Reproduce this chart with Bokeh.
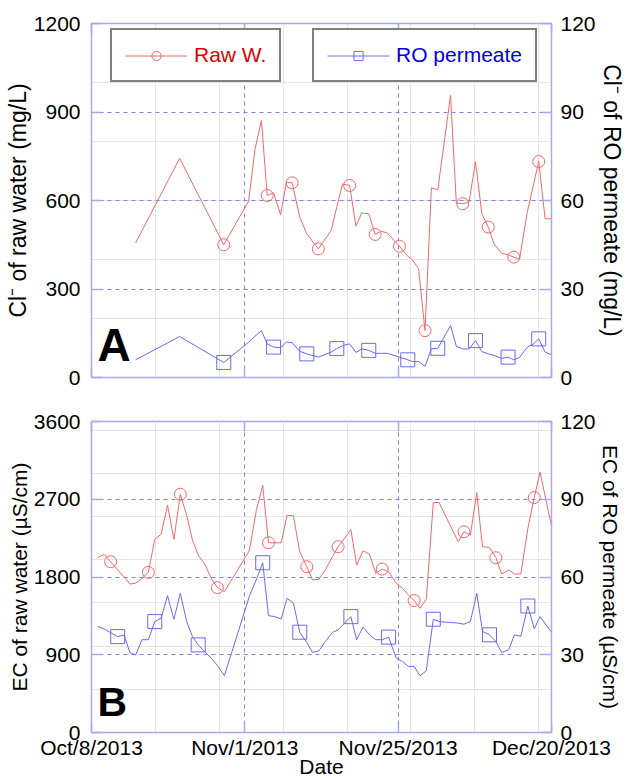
from bokeh.plotting import figure
from bokeh.models import (Range1d, LinearAxis, FixedTicker, Legend, LegendItem,
                          Label, Grid)
from bokeh.layouts import column
from bokeh.embed import file_html
from bokeh.resources import INLINE

# ---------------- data ----------------
# x values: days after Oct/8/2013 (axis ticks every 24 days)
x_ticks = [0, 24, 48, 72]
x_tick_labels = ["Oct/8/2013", "Nov/1/2013", "Nov/25/2013", "Dec/20/2013"]

# Panel A: chloride
day_cl = [6.9, 13.8, 20.7, 24.6, 25.6, 26.6, 27.5, 28.5, 29.6, 30.5, 31.4, 32.6,
          33.7, 35.5, 37.5, 38.4, 39.3, 40.4, 41.4, 42.3, 43.4, 44.4, 45.3, 46.3,
          48.2, 49.5, 50.2, 51.2, 52.2, 53.2, 54.2, 56.2, 57.1, 58.1, 59.1, 60.1,
          61.1, 62.1, 63.0, 64.2, 65.2, 66.1, 67.0, 68.2, 69.2, 70.0, 71.0, 72.0]
cl_raw = [456, 743, 450, 598, 775, 871, 617, 626, 552, 662, 660, 543,
          487, 436, 498, 578, 656, 651, 513, 558, 555, 485, 496, 490,
          445, 411, 400, 368, 159, 643, 636, 956, 592, 589, 594, 732,
          555, 510, 453, 421, 416, 408, 402, 560, 656, 732, 538, 538]
cl_ro = [6.0, 13.9, 5.1, 12.0, 14.0, 15.9, 11.4, 10.3, 10.1, 12.0, 11.8, 8.9,
         8.0, 6.9, 8.6, 9.8, 10.8, 11.4, 8.5, 9.7, 9.2, 8.2, 8.2, 8.2,
         6.9, 6.0, 5.4, 5.4, 3.8, 9.7, 9.9, 17.6, 10.6, 9.7, 9.7, 12.5,
         8.8, 8.0, 7.5, 6.5, 6.9, 6.0, 6.8, 10.3, 11.4, 13.1, 8.6, 7.7]
cl_raw_marked = [2, 6, 10, 13, 17, 21, 24, 28, 33, 37, 41, 45]
cl_ro_marked = [2, 7, 12, 15, 20, 25, 30, 35, 40, 45]
cl_raw_ticks = [0, 300, 600, 900, 1200]
cl_ro_ticks = [0, 30, 60, 90, 120]

# Panel B: electrical conductivity
day_ec = [1.0, 2.0, 3.0, 4.1, 5.1, 6.0, 6.9, 7.9, 8.9, 9.9, 10.9, 11.9, 12.9,
          13.9, 14.9, 15.8, 16.7, 17.8, 18.8, 19.7, 20.8, 24.7, 25.8, 26.8,
          27.7, 28.7, 29.7, 30.6, 31.6, 32.6, 33.7, 34.6, 35.6, 36.6, 37.7,
          38.6, 39.6, 40.6, 41.5, 42.5, 43.5, 44.5, 45.5, 46.5, 47.7, 48.7,
          49.6, 50.5, 51.4, 52.4, 53.5, 54.4, 57.4, 58.3, 59.3, 60.3, 61.2,
          62.3, 63.3, 64.2, 65.3, 66.2, 67.2, 68.3, 69.3, 70.2, 72.0]
ec_raw = [2027, 2062, 1977, 1881, 1800, 1719, 1727, 1785, 1854, 2235, 2296,
          2631, 2235, 2758, 2515, 2227, 2054, 1938, 1777, 1677, 1631, 2104,
          2573, 2862, 2196, 2196, 2196, 2515, 2508, 2092, 1919, 1765, 1773,
          1881, 2035, 2150, 2246, 2350, 1938, 2104, 2065, 1842, 1892, 1861,
          1727, 1669, 1592, 1527, 1438, 1542, 2662, 2662, 2208, 2323, 2285,
          2777, 2150, 2142, 2023, 1835, 1881, 1835, 1835, 2362, 2719, 3015,
          2390]
ec_ro = [40.9, 39.9, 38.5, 37.0, 37.6, 30.9, 29.9, 35.8, 35.8, 42.8, 44.1,
         52.8, 43.7, 53.7, 42.8, 37.0, 33.8, 31.0, 28.5, 25.9, 21.9, 52.5,
         59.0, 65.5, 45.1, 44.7, 43.8, 51.8, 49.9, 38.7, 34.7, 30.9, 31.5,
         35.1, 38.6, 39.6, 42.2, 44.7, 35.8, 40.7, 37.7, 35.8, 35.8, 36.8,
         28.7, 27.4, 25.5, 25.5, 21.9, 23.8, 43.7, 42.8, 42.2, 41.8, 42.8,
         53.7, 39.0, 37.7, 35.1, 30.9, 31.9, 37.7, 37.1, 48.8, 40.0, 44.7,
         38.7]
ec_raw_marked = [2, 8, 13, 19, 24, 30, 35, 42, 47, 53, 58, 64]
ec_ro_marked = [3, 9, 16, 23, 29, 37, 43, 50, 57, 63]
ec_raw_ticks = [0, 900, 1800, 2700, 3600]
ec_ro_ticks = [0, 30, 60, 90, 120]

# ---------------- style ----------------
FONT = "Liberation Sans"
RED = "#f06a6a"
BLUE = "#6a6af0"
RED_TXT = "#e00000"
BLUE_TXT = "#0000e0"
FRAME = "#a8a8f4"
GRID = "#8080ee"
TICK_FS = "21px"


def style_axis(ax, ticks, labels=True, overrides=None, label_fs="21px"):
    ax.ticker = FixedTicker(ticks=ticks)
    ax.axis_line_color = FRAME
    ax.axis_line_width = 1.5
    ax.major_tick_in = 10
    ax.major_tick_out = 0
    ax.major_tick_line_color = FRAME
    ax.major_tick_line_width = 1.5
    ax.minor_tick_line_color = None
    ax.major_label_text_font = FONT
    if labels:
        ax.major_label_text_font_size = TICK_FS
        ax.major_label_text_color = "black"
    else:
        ax.major_label_text_font_size = "0px"
        ax.major_label_text_color = None
        ax.major_label_standoff = 0
    if overrides:
        ax.major_label_overrides = overrides
    ax.axis_label_text_font = FONT
    ax.axis_label_text_font_size = label_fs
    ax.axis_label_text_font_style = "normal"
    ax.axis_label_text_color = "black"


def make_panel(height, top_border, xs, raw, ro, raw_marked, ro_marked,
               left_ticks, right_ticks, left_label, right_label, letter,
               letter_fs, letter_y, label_fs, bottom_labels, legend):
    p = figure(width=627, height=height, output_backend="svg",
               toolbar_location=None, x_axis_location=None,
               y_axis_location=None,
               x_range=Range1d(0, x_ticks[-1]),
               y_range=Range1d(left_ticks[0], left_ticks[-1]),
               min_border_left=91, min_border_right=74,
               min_border_top=top_border,
               min_border_bottom=11 if not bottom_labels else 0)
    p.extra_y_ranges = {"ro": Range1d(right_ticks[0], right_ticks[-1])}
    p.outline_line_color = FRAME
    p.background_fill_color = "white"
    p.border_fill_color = "white"

    for dim, ticks in ((0, x_ticks), (1, left_ticks)):
        g = Grid(dimension=dim, ticker=FixedTicker(ticks=ticks),
                 grid_line_color=GRID, grid_line_dash="4 4",
                 grid_line_width=1)
        p.add_layout(g)

    left = LinearAxis(axis_label=left_label)
    style_axis(left, left_ticks, label_fs=label_fs)
    left.major_label_standoff = 11
    left.axis_label_standoff = 0
    p.add_layout(left, "left")

    right = LinearAxis(y_range_name="ro", axis_label=right_label)
    style_axis(right, right_ticks, label_fs=label_fs)
    right.major_label_standoff = 9
    right.axis_label_standoff = 0
    p.add_layout(right, "right")

    top = LinearAxis()
    style_axis(top, x_ticks, labels=False)
    p.add_layout(top, "above")

    if bottom_labels:
        bottom = LinearAxis(axis_label="Date")
        style_axis(bottom, x_ticks,
                   overrides={t: l for t, l in zip(x_ticks, x_tick_labels)},
                   label_fs=label_fs)
        bottom.major_label_standoff = 3
        bottom.axis_label_standoff = -7
    else:
        bottom = LinearAxis()
        style_axis(bottom, x_ticks, labels=False)
    p.add_layout(bottom, "below")

    r_line = p.line(xs, raw, line_color=RED, line_width=1)
    r_pts = p.scatter([xs[i] for i in raw_marked], [raw[i] for i in raw_marked],
                      marker="circle", size=12, fill_color=None,
                      line_color=RED, line_width=1)
    b_line = p.line(xs, ro, line_color=BLUE, line_width=1, y_range_name="ro")
    b_pts = p.scatter([xs[i] for i in ro_marked], [ro[i] for i in ro_marked],
                      marker="square", size=14, fill_color=None,
                      line_color=BLUE, line_width=1, y_range_name="ro")

    if legend:
        for lbl, rends, col, loc in (("Raw W.", [r_line, r_pts], RED_TXT, (19, 295)),
                                     ("RO permeate", [b_line, b_pts], BLUE_TXT, (221, 295))):
            lg = Legend(items=[LegendItem(label=lbl, renderers=rends)],
                        location=loc, border_line_color="black",
                        border_line_width=2.5, background_fill_color="white",
                        background_fill_alpha=1, padding=13, spacing=0,
                        glyph_width=62, glyph_height=23, label_height=23,
                        label_standoff=7, label_text_font=FONT,
                        label_text_font_size="21px", label_text_color=col,
                        margin=0)
            p.add_layout(lg)

    p.add_layout(Label(x=6, y=letter_y, x_units="screen", y_units="screen",
                       text=letter, text_font=FONT,
                       text_font_size=letter_fs, text_font_style="bold",
                       text_color="black", text_baseline="alphabetic"))
    return p


p1 = make_panel(388, 23, day_cl, cl_raw, cl_ro, cl_raw_marked, cl_ro_marked,
                cl_raw_ticks, cl_ro_ticks, "Cl\u207b of raw water (mg/L)",
                "Cl\u207b of RO permeate (mg/L)", "A", "46px", 33, "23px",
                False, True)
p2 = make_panel(392, 33, day_ec, ec_raw, ec_ro, ec_raw_marked, ec_ro_marked,
                ec_raw_ticks, ec_ro_ticks, "EC of raw water (\u00b5S/cm)",
                "EC of RO permeate (\u00b5S/cm)", "B", "41px", 31, "21px",
                True, False)

layout = column(p1, p2, spacing=0)
open("out.html", "w").write(file_html(layout, INLINE))
